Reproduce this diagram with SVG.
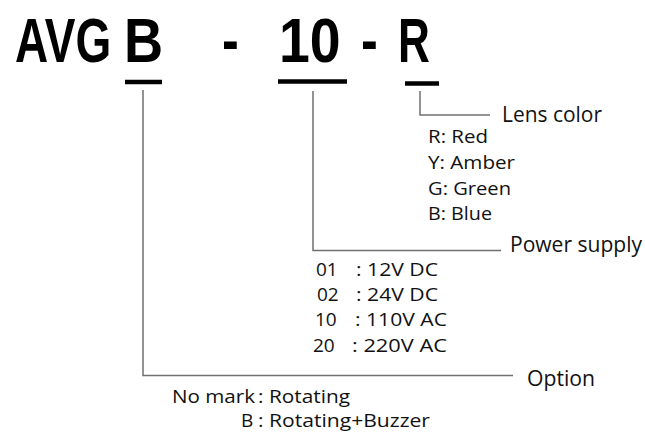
<svg xmlns="http://www.w3.org/2000/svg" width="645" height="434" viewBox="0 0 645 434">
<style>
.t{font-family:"Liberation Sans",Arial,sans-serif;font-weight:bold;font-size:63px;fill:#000}
.u{stroke:#000;stroke-width:4.5;fill:none}
.c{stroke:#707070;stroke-width:1.5;fill:none}
.h{font-family:"Open Sans","Noto Sans",sans-serif;font-size:21px;fill:#111}
.s{font-family:"Open Sans","Noto Sans",sans-serif;font-size:19px;fill:#111}
</style>
<rect width="645" height="434" fill="#fff"/>
<g id="title">
<text class="t" transform="translate(15,62) scale(0.73,1)">AVG</text>
<text class="t" transform="translate(124,62) scale(0.86,1)">B</text>
<text class="t" transform="translate(222,62) scale(0.8,1)">-</text>
<text class="t" transform="translate(279,62) scale(0.88,1)">10</text>
<text class="t" transform="translate(361,62) scale(0.8,1)">-</text>
<text class="t" transform="translate(398,62) scale(0.7,1)">R</text>
</g>
<g id="underlines">
<line class="u" x1="125" y1="82" x2="162" y2="82"/>
<line class="u" x1="278" y1="81.5" x2="347" y2="81.5"/>
<line class="u" x1="405" y1="83.5" x2="439" y2="83.5"/>
</g>
<g id="connectors">
<polyline class="c" points="420,91 420,115 490,115"/>
<polyline class="c" points="313,91 313,250.5 501,250.5"/>
<polyline class="c" points="143,90 143,375.5 513,375.5"/>
</g>
<g id="lens">
<text class="h" x="502" y="122" textLength="100" lengthAdjust="spacingAndGlyphs">Lens color</text>
<text class="s" x="428" y="143" textLength="60" lengthAdjust="spacingAndGlyphs">R: Red</text>
<text class="s" x="428" y="169" textLength="87" lengthAdjust="spacingAndGlyphs">Y: Amber</text>
<text class="s" x="428" y="195" textLength="83" lengthAdjust="spacingAndGlyphs">G: Green</text>
<text class="s" x="428" y="220" textLength="64" lengthAdjust="spacingAndGlyphs">B: Blue</text>
</g>
<g id="power">
<text class="h" x="510" y="252" textLength="132" lengthAdjust="spacingAndGlyphs">Power supply</text>
<text class="s" x="316" y="276">01</text><text class="s" x="356" y="276" textLength="82" lengthAdjust="spacingAndGlyphs">: 12V DC</text>
<text class="s" x="317" y="301">02</text><text class="s" x="356" y="301" textLength="82" lengthAdjust="spacingAndGlyphs">: 24V DC</text>
<text class="s" x="315" y="326">10</text><text class="s" x="355" y="326" textLength="92" lengthAdjust="spacingAndGlyphs">: 110V AC</text>
<text class="s" x="313" y="352">20</text><text class="s" x="352" y="352" textLength="95" lengthAdjust="spacingAndGlyphs">: 220V AC</text>
</g>
<g id="option">
<text class="h" x="527" y="386" textLength="68" lengthAdjust="spacingAndGlyphs">Option</text>
<text class="s" x="172" y="403" textLength="83" lengthAdjust="spacingAndGlyphs">No mark</text><text class="s" x="258" y="403" textLength="92" lengthAdjust="spacingAndGlyphs">: Rotating</text>
<text class="s" x="241" y="427">B</text><text class="s" x="258" y="427" textLength="172" lengthAdjust="spacingAndGlyphs">: Rotating+Buzzer</text>
</g>
</svg>
